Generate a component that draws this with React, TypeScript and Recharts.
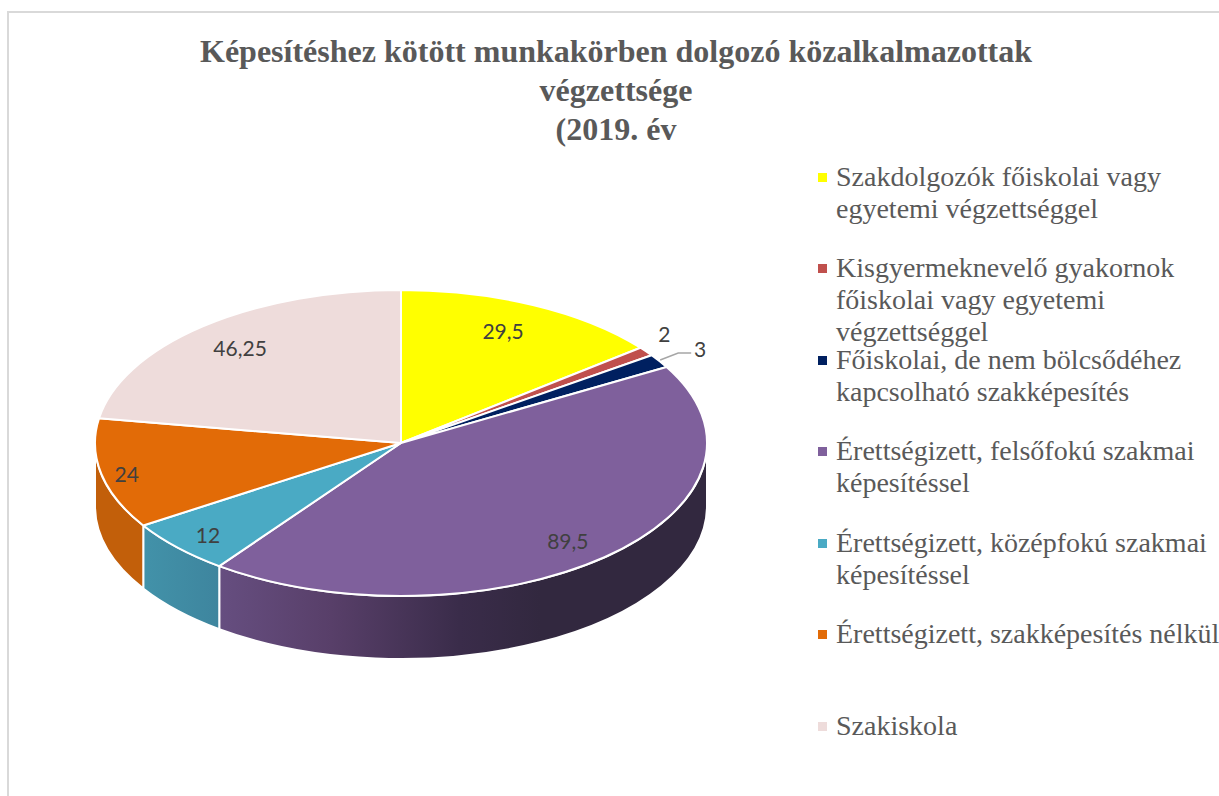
import React from 'react';
import { PieChart, Pie, Legend } from 'recharts';

const categories = [
  'Szakdolgozók főiskolai vagy\negyetemi végzettséggel',
  'Kisgyermeknevelő gyakornok\nfőiskolai vagy egyetemi\nvégzettséggel',
  'Főiskolai, de nem bölcsődéhez\nkapcsolható szakképesítés',
  'Érettségizett, felsőfokú szakmai\nképesítéssel',
  'Érettségizett, középfokú szakmai\nképesítéssel',
  'Érettségizett, szakképesítés nélkül',
  'Szakiskola',
];
const values = [29.5, 2, 3, 89.5, 12, 24, 46.25];
const valueLabels = ['29,5', '2', '3', '89,5', '12', '24', '46,25'];
const COLORS = ['#ffff00', '#c0504d', '#002060', '#7f609c', '#4aaac4', '#e26b07', '#eedcdb'];
const WALLS = ['#cccc00', '#9a403e', '#001a4d', 'url(#wallPurple)', 'url(#wallTeal)', '#c25f0a', '#bfb0af'];
const titleLines = ['Képesítéshez kötött munkakörben dolgozó közalkalmazottak', 'végzettsége', '(2019. év'];

// label position as a fraction of the rim point on each slice's middle angle
const LABEL_FX = [0.768, 1.074, 1.158, 0.82, 0.864, 0.915, 0.812];
const LABEL_FY = [0.813, 1.2, 1.158, 0.857, 0.88, 1.0, 0.823];
const LEGEND_TOPS = [161, 252, 344, 435, 527, 618, 710];

const data = categories.map((name, i) => ({
  name,
  value: values[i],
  fill: COLORS[i],
  wall: WALLS[i],
}));

const CX = 401;
const CY = 443;
const RX = 306;
const RY = 153;
const DEPTH = 63;
const RAD = Math.PI / 180;

const px = (a: number) => CX + RX * Math.cos(a * RAD);
const py = (a: number) => CY - RY * Math.sin(a * RAD);

// recharts hands over the angles, we squash the circle into the tilted disc
const TiltedSector = (props: any) => {
  const { startAngle, endAngle, fill, wall } = props;
  const hi = Math.min(startAngle, 0);
  const lo = Math.max(endAngle, -180);
  const large = startAngle - endAngle > 180 ? 1 : 0;
  const top = `M${CX},${CY} L${px(startAngle)},${py(startAngle)} A${RX},${RY} 0 ${large} 1 ${px(endAngle)},${py(endAngle)} Z`;
  return (
    <g>
      {hi > lo && (
        <path
          d={`M${px(hi)},${py(hi)} A${RX},${RY} 0 0 1 ${px(lo)},${py(lo)} L${px(lo)},${py(lo) + DEPTH} A${RX},${RY} 0 0 0 ${px(hi)},${py(hi) + DEPTH} Z`}
          fill={wall}
          stroke="#fff"
          strokeWidth={2}
          strokeLinejoin="round"
        />
      )}
      <path d={top} fill={fill} stroke="#fff" strokeWidth={2} strokeLinejoin="round" />
    </g>
  );
};

const renderLabel = (props: any) => {
  const { midAngle, index } = props;
  const x = CX + RX * LABEL_FX[index] * Math.cos(midAngle * RAD);
  const y = CY - RY * LABEL_FY[index] * Math.sin(midAngle * RAD);
  return (
    <g key={index}>
      {index === 2 && (
        <polyline
          points={`${x - 40},${y + 12} ${x - 22},${y + 5} ${x - 9},${y + 5}`}
          fill="none"
          stroke="#a6a6a6"
          strokeWidth={1.5}
        />
      )}
      <text
        x={x}
        y={y}
        textAnchor="middle"
        dominantBaseline="central"
        fontFamily="Lato, sans-serif"
        fontSize={21}
        fill="#404040"
      >
        {valueLabels[index]}
      </text>
    </g>
  );
};

const renderLegend = (props: any) => (
  <div style={{ position: 'relative', width: 401, height: 600 }}>
    {props.payload.map((entry: any, i: number) => (
      <div
        key={i}
        style={{
          position: 'absolute',
          left: 18,
          top: LEGEND_TOPS[i] - 161,
          whiteSpace: 'pre',
          fontFamily: '"Liberation Serif", serif',
          fontSize: 28,
          lineHeight: '32px',
          color: '#595959',
        }}
      >
        <span
          style={{
            position: 'absolute',
            left: -18,
            top: 12,
            width: 9,
            height: 9,
            background: COLORS[i],
          }}
        />
        {entry.value}
      </div>
    ))}
  </div>
);

const App: React.FC = () => {
  return (
    <div style={{ position: 'absolute', left: 0, top: 0, width: 1219, height: 796, overflow: 'hidden', background: '#fff' }}>
      <div
        style={{
          position: 'absolute',
          left: 7,
          top: 11,
          right: -4,
          bottom: -4,
          borderLeft: '2px solid #d9d9d9',
          borderTop: '2px solid #d9d9d9',
        }}
      />
      <PieChart width={1219} height={796} margin={{ top: 0, right: 0, bottom: 0, left: 0 }}>
        <defs>
          <linearGradient id="wallPurple" gradientUnits="userSpaceOnUse" x1={219} y1={0} x2={540} y2={0}>
            <stop offset="0%" stopColor="#664e80" />
            <stop offset="35%" stopColor="#583f69" />
            <stop offset="75%" stopColor="#3a2c4a" />
            <stop offset="100%" stopColor="#32283f" />
          </linearGradient>
          <linearGradient id="wallTeal" gradientUnits="userSpaceOnUse" x1={143} y1={0} x2={219} y2={0}>
            <stop offset="0%" stopColor="#4292a9" />
            <stop offset="100%" stopColor="#3e859e" />
          </linearGradient>
        </defs>
        {titleLines.map((line, i) => (
          <text
            key={line}
            x={616}
            y={62 + i * 39}
            textAnchor="middle"
            fontFamily='"Liberation Serif", serif'
            fontWeight="bold"
            fontSize={32}
            fill="#595959"
          >
            {line}
          </text>
        ))}
        <Pie
          data={data}
          dataKey="value"
          nameKey="name"
          cx={CX}
          cy={CY}
          outerRadius={RX}
          startAngle={90}
          endAngle={-270}
          stroke="#fff"
          shape={TiltedSector}
          label={renderLabel}
          labelLine={false}
          isAnimationActive={false}
        />
        <Legend
          content={renderLegend}
          layout="vertical"
          align="right"
          verticalAlign="top"
          itemSorter={null}
          wrapperStyle={{ position: 'absolute', left: 818, top: 161, width: 401 }}
        />
      </PieChart>
    </div>
  );
};

export default App;
